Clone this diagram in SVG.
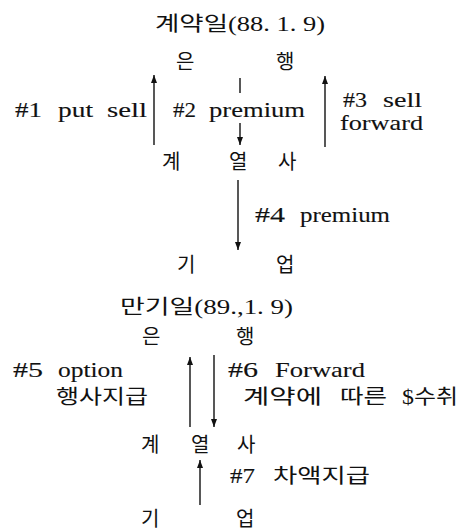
<svg xmlns="http://www.w3.org/2000/svg" width="475" height="531" viewBox="0 0 475 531">
<defs>
<style>
text{font-family:"Liberation Serif","Noto Sans CJK KR",serif;font-size:21px;fill:#111}
.l{stroke:#111;stroke-width:0.12}
.k{font-size:20px}
.c line{stroke:#111;stroke-width:1.4}
.a{marker-end:url(#ah)}
</style>
<marker id="ah" markerUnits="userSpaceOnUse" markerWidth="10" markerHeight="8" refX="8" refY="3" orient="auto">
<path d="M0,0 L8,3 L0,6 z" fill="#111"/>
</marker>
</defs>
<rect width="475" height="531" fill="#fff"/>
<g id="title1"><text class="k" x="155" y="31" textLength="170" lengthAdjust="spacingAndGlyphs">계약일(88. 1. 9)</text></g>
<g id="bank1"><text class="k" x="176" y="69">은</text><text class="k" x="276" y="69">행</text></g>
<g id="affil1"><text class="k" x="162" y="169">계</text><text class="k" x="229" y="169">열</text><text class="k" x="278" y="169">사</text></g>
<g id="corp1"><text class="k" x="177" y="272">기</text><text class="k" x="276" y="272">업</text></g>
<g id="title2"><text class="k" x="120" y="314" textLength="173" lengthAdjust="spacingAndGlyphs">만기일(89.,1. 9)</text></g>
<g id="bank2"><text class="k" x="142" y="344">은</text><text class="k" x="236" y="344">행</text></g>
<g id="affil2"><text class="k" x="141" y="452">계</text><text class="k" x="191" y="452">열</text><text class="k" x="237" y="452">사</text></g>
<g id="corp2"><text class="k" x="141" y="526">기</text><text class="k" x="236" y="526">업</text></g>
<g id="connectors" class="c">
<line class="a" x1="154" y1="145" x2="154" y2="75"/>
<line x1="240" y1="78" x2="240" y2="93"/>
<line class="a" x1="240" y1="123" x2="240" y2="145"/>
<line class="a" x1="325" y1="147" x2="325" y2="76"/>
<line class="a" x1="238" y1="180" x2="238" y2="250"/>
<line class="a" x1="190" y1="427" x2="190" y2="357"/>
<line class="a" x1="214" y1="355" x2="214" y2="427"/>
<line class="a" x1="200" y1="505" x2="200" y2="460"/>
</g>
<g id="labels">
<text class="l" y="117"><tspan x="15" textLength="27" lengthAdjust="spacingAndGlyphs">#1</tspan> <tspan x="58" textLength="35" lengthAdjust="spacingAndGlyphs">put</tspan> <tspan x="107" textLength="40" lengthAdjust="spacingAndGlyphs">sell</tspan></text>
<text class="l" y="117"><tspan x="173" textLength="23" lengthAdjust="spacingAndGlyphs">#2</tspan> <tspan x="209" textLength="96" lengthAdjust="spacingAndGlyphs">premium</tspan></text>
<text class="l" y="107"><tspan x="343" textLength="24" lengthAdjust="spacingAndGlyphs">#3</tspan> <tspan x="383" textLength="39" lengthAdjust="spacingAndGlyphs">sell</tspan></text>
<text class="l" x="340" y="130" textLength="83" lengthAdjust="spacingAndGlyphs">forward</text>
<text class="l" y="222"><tspan x="255" textLength="30" lengthAdjust="spacingAndGlyphs">#4</tspan> <tspan x="300" textLength="90" lengthAdjust="spacingAndGlyphs">premium</tspan></text>
<text class="l" y="377"><tspan x="13" textLength="30" lengthAdjust="spacingAndGlyphs">#5</tspan> <tspan x="58" textLength="65" lengthAdjust="spacingAndGlyphs">option</tspan></text>
<text class="k" x="56" y="404" textLength="92" lengthAdjust="spacingAndGlyphs">행사지급</text>
<text class="l" y="377"><tspan x="228" textLength="30" lengthAdjust="spacingAndGlyphs">#6</tspan> <tspan x="275" textLength="90" lengthAdjust="spacingAndGlyphs">Forward</tspan></text>
<text class="k" y="404"><tspan x="243" textLength="79" lengthAdjust="spacingAndGlyphs">계약에</tspan> <tspan x="340" textLength="47" lengthAdjust="spacingAndGlyphs">따른</tspan> <tspan x="402" textLength="56" lengthAdjust="spacingAndGlyphs">$수취</tspan></text>
<text y="483"><tspan class="l" x="230" textLength="25" lengthAdjust="spacingAndGlyphs">#7</tspan> <tspan class="k" x="273" textLength="97" lengthAdjust="spacingAndGlyphs">차액지급</tspan></text>
</g>
</svg>
